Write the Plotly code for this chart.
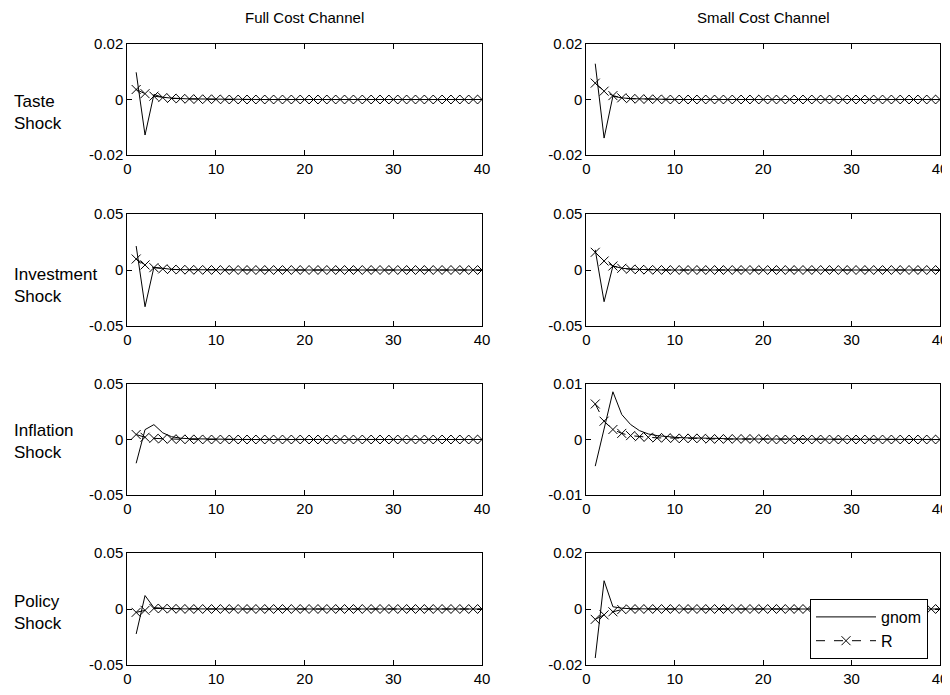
import plotly.graph_objects as go

periods = list(range(1, 41))

def pad(vals, n=40):
    return vals + [0.0] * (n - len(vals))

# Taste shock
taste_full_gnom = pad([0.0098, -0.0128, 0.0018, 0.0008, 0.0005, 0.0003, 0.0002, 0.0002, 0.0001, 0.0001, 0.0001, 0.0001])
taste_full_R = pad([0.0036, 0.0021, 0.0012, 0.0007, 0.0004, 0.0003, 0.0002, 0.0001, 0.0001, 0.0001])
taste_small_gnom = pad([0.0129, -0.0139, 0.0012, 0.0006, 0.0003, 0.0002, 0.0001, 0.0001])
taste_small_R = pad([0.0059, 0.0030, 0.0014, 0.0006, 0.0003, 0.0002, 0.0001, 0.0001])
# Investment shock
inv_full_gnom = pad([0.0214, -0.0328, 0.0024, 0.0012, 0.0006, 0.0003, 0.0002, 0.0001, 0.0001])
inv_full_R = pad([0.0098, 0.0045, 0.0021, 0.0010, 0.0005, 0.0003, 0.0002, 0.0001, 0.0001])
inv_small_gnom = pad([0.0180, -0.0283, 0.0036, 0.0016, 0.0008, 0.0004, 0.0002, 0.0001])
inv_small_R = pad([0.0158, 0.0080, 0.0036, 0.0015, 0.0007, 0.0004, 0.0002, 0.0001])
# Inflation shock
infl_full_gnom = pad([-0.0214, 0.0089, 0.0134, 0.0060, 0.0025, 0.0012, 0.0007, 0.0005, 0.0003, 0.0002, 0.0001, 0.0001])
infl_full_R = pad([0.0045, 0.0020, 0.0010, 0.0006, 0.0004, 0.0002, 0.0001, 0.0001])
infl_small_gnom = pad([-0.0048, 0.0019, 0.0086, 0.0045, 0.0027, 0.0016, 0.0010, 0.0007, 0.0005, 0.0004,
                       0.0003, 0.0003, 0.0002, 0.0002, 0.0002, 0.0001, 0.0001, 0.0001, 0.0001, 0.0001])
infl_small_R = pad([0.0064, 0.0033, 0.0018, 0.0011, 0.0007, 0.0005, 0.0004, 0.0003, 0.0003, 0.0002,
                    0.0002, 0.0002, 0.0002, 0.0001, 0.0001, 0.0001, 0.0001, 0.0001, 0.0001, 0.0001])
# Policy shock
pol_full_gnom = pad([-0.0223, 0.0120, 0.0012, 0.0004, 0.0002, 0.0001])
pol_full_R = pad([-0.0030, -0.0012, 0.0005, 0.0004, 0.0002, 0.0001])
pol_small_gnom = pad([-0.0175, 0.0101, 0.0008, 0.0003, 0.0001])
pol_small_R = pad([-0.0037, -0.0021, -0.0010, -0.0002, 0.0000])

column_titles = ["Full Cost Channel", "Small Cost Channel"]
row_labels = ["Taste<br>Shock", "Investment<br>Shock", "Inflation<br>Shock", "Policy<br>Shock"]

x_ticks = [0, 10, 20, 30, 40]
x_ticktext = ["0", "10", "20", "30", "40"]

panels = [
    (0, 0, taste_full_gnom, taste_full_R, [-0.02, 0, 0.02], ["-0.02", "0", "0.02"]),
    (0, 1, taste_small_gnom, taste_small_R, [-0.02, 0, 0.02], ["-0.02", "0", "0.02"]),
    (1, 0, inv_full_gnom, inv_full_R, [-0.05, 0, 0.05], ["-0.05", "0", "0.05"]),
    (1, 1, inv_small_gnom, inv_small_R, [-0.05, 0, 0.05], ["-0.05", "0", "0.05"]),
    (2, 0, infl_full_gnom, infl_full_R, [-0.05, 0, 0.05], ["-0.05", "0", "0.05"]),
    (2, 1, infl_small_gnom, infl_small_R, [-0.01, 0, 0.01], ["-0.01", "0", "0.01"]),
    (3, 0, pol_full_gnom, pol_full_R, [-0.05, 0, 0.05], ["-0.05", "0", "0.05"]),
    (3, 1, pol_small_gnom, pol_small_R, [-0.02, 0, 0.02], ["-0.02", "0", "0.02"]),
]

W, H = 950, 695
OFF = 8  # page body margin offset
col_px = [(127.3, 482.0), (586.4, 940.0)]
row_px = [(44, 155), (214, 326), (384, 495), (553, 665)]

def px(v):
    return (v - OFF) / W

def py(v):
    return 1 - (v - OFF) / H

FONT = "Liberation Sans, Arial, Helvetica, sans-serif"
FS = 15
FS_LAB = 17

fig = go.Figure()
layout_axes = {}
for i, (r, c, g, rr, yt, ytt) in enumerate(panels):
    idx = i + 1
    xa = "x" if idx == 1 else f"x{idx}"
    ya = "y" if idx == 1 else f"y{idx}"
    last = (r == 3 and c == 1)
    fig.add_trace(go.Scatter(x=periods, y=g, mode="lines", name="gnom",
                             line=dict(color="black", width=1),
                             xaxis=xa, yaxis=ya, showlegend=last))
    fig.add_trace(go.Scatter(x=periods, y=rr, mode="lines+markers", name="R",
                             line=dict(color="black", width=1, dash="dash"),
                             marker=dict(symbol="x-thin-open", size=9,
                                         line=dict(color="black", width=1)),
                             xaxis=xa, yaxis=ya, showlegend=last))
    x0, x1 = col_px[c]
    t0, b0 = row_px[r]
    common = dict(showline=True, linecolor="black", linewidth=1, mirror="ticks",
                  ticks="inside", ticklen=5, tickcolor="black", showgrid=False,
                  zeroline=False, automargin=False,
                  tickfont=dict(family=FONT, size=FS, color="black"))
    layout_axes["xaxis" if idx == 1 else f"xaxis{idx}"] = dict(
        domain=[px(x0), px(x1)], range=[0, 40], tickvals=x_ticks, ticktext=x_ticktext,
        anchor=ya, **common)
    layout_axes["yaxis" if idx == 1 else f"yaxis{idx}"] = dict(
        domain=[py(b0), py(t0)], range=[yt[0], yt[-1]], tickvals=yt, ticktext=ytt,
        anchor=xa, **common)

fig.update_layout(**layout_axes)

annotations = []
for c, title in enumerate(column_titles):
    x0, x1 = col_px[c]
    annotations.append(dict(text=title, x=px((x0 + x1) / 2), y=py(17), xref="paper", yref="paper",
                            xanchor="center", yanchor="middle", showarrow=False,
                            font=dict(family=FONT, size=FS, color="black")))
label_centers = [112, 285, 441, 612]
for r, lab in enumerate(row_labels):
    annotations.append(dict(text=lab, x=px(12), y=py(label_centers[r]), xref="paper", yref="paper",
                            xanchor="left", yanchor="middle", align="left", showarrow=False,
                            font=dict(family=FONT, size=FS_LAB, color="black")))

fig.update_layout(
    width=W, height=H, autosize=False,
    margin=dict(l=0, r=0, t=0, b=0, pad=0, autoexpand=False),
    paper_bgcolor="white", plot_bgcolor="white",
    annotations=annotations,
    legend=dict(x=px(928), y=py(659), xanchor="right", yanchor="bottom",
                bordercolor="black", borderwidth=1, bgcolor="white",
                font=dict(family=FONT, size=16, color="black"),
                tracegroupgap=0, itemwidth=60),
)

fig.write_html("out.html")
